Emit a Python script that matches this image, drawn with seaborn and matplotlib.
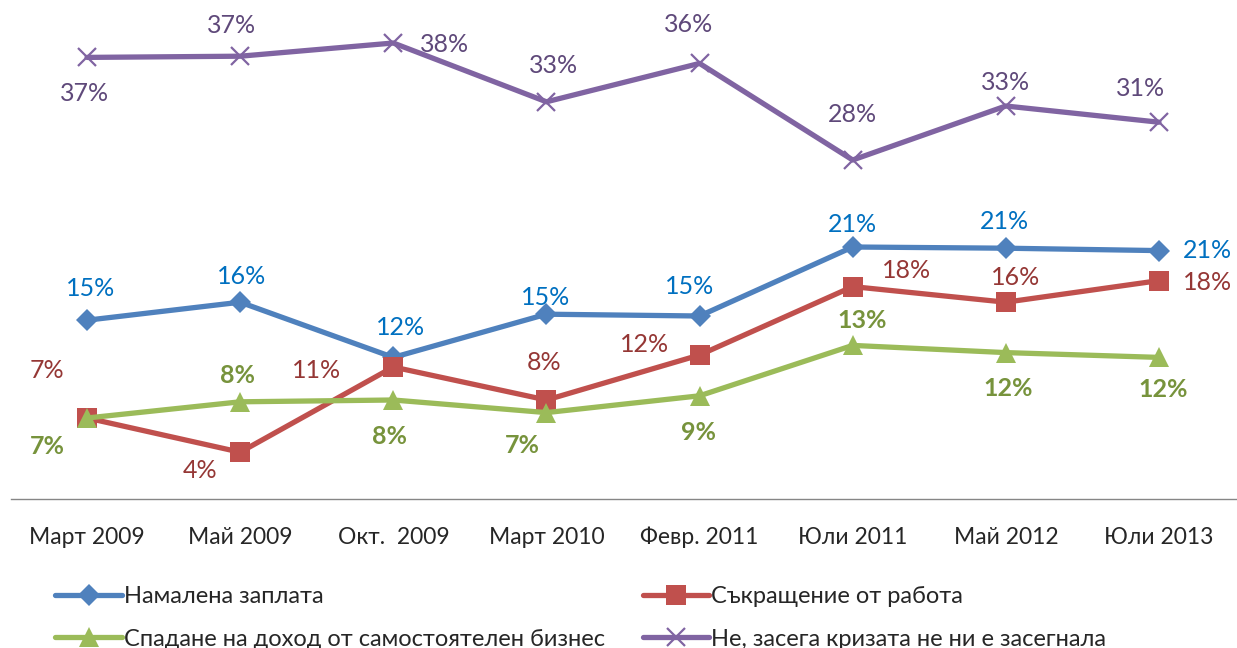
import matplotlib
matplotlib.use("Agg")
import matplotlib.pyplot as plt
import seaborn as sns
import pandas as pd

periods = ["Март 2009", "Май 2009", "Окт.  2009", "Март 2010",
           "Февр. 2011", "Юли 2011", "Май 2012", "Юли 2013"]

series_names = ["Намалена заплата", "Съкращение от работа",
                "Спадане на доход от самостоятелен бизнес",
                "Не, засега кризата не ни е засегнала"]

salary_cut = [14.9, 16.4, 11.8, 15.4, 15.25, 21.0, 20.9, 20.7]
job_loss = [6.75, 3.9, 11.0, 8.25, 12.0, 17.7, 16.4, 18.2]
business_drop = [6.75, 8.1, 8.25, 7.2, 8.6, 12.8, 12.2, 11.8]
not_affected = [36.8, 36.9, 38.0, 33.1, 36.3, 28.25, 32.75, 31.4]

sns.set_style("white")
plt.rcParams["font.family"] = ["Lato", "Open Sans", "DejaVu Sans"]

line_colors = ["#4F81BD", "#C0504D", "#9BBB59", "#8064A2"]
label_colors = ["#0070C0", "#953735", "#77933C", "#5F497A"]
markers = ["D", "s", "^", "x"]
msizes = [11, 14, 15, 13]
bold = [False, False, True, False]

# label offsets in pixels (dx, dy), screen coordinates, y down
offsets = [
    [(4, -32), (1, -26), (7, -30), (-1, -17), (-10, -29), (0, -22), (-1, -27), (49, 0)],
    [(-40, -47), (-40, 18), (-77, 3), (-2, -38), (-55, -11), (54, -16), (10, -25), (49, 2)],
    [(-40, 29), (-3, -26), (-4, 36), (-24, 33), (-1, 37), (9, -25), (2, 36), (4, 32)],
    [(-3, 36), (-9, -31), (51, 2), (7, -36), (-11, -39), (0, -46), (0, -24), (-18, -34)],
]

values = [salary_cut, job_loss, business_drop, not_affected]
xpos = list(range(len(periods)))

fig = plt.figure(figsize=(12.37, 6.48), dpi=100)
ax = fig.add_axes([10.5 / 1237, 149 / 648, 1225 / 1237, 480 / 648])

for i, vals in enumerate(values):
    df = pd.DataFrame({"x": xpos, "y": vals})
    sns.lineplot(data=df, x="x", y="y", ax=ax, color=line_colors[i],
                 linewidth=3.8, marker=markers[i], markersize=msizes[i],
                 markeredgewidth=1.6 if markers[i] == "x" else 0,
                 markeredgecolor=line_colors[i], label=series_names[i])
    for j, v in enumerate(vals):
        dx, dy = offsets[i][j]
        ax.annotate(f"{round(v)}%", (j, v), xytext=(dx * 0.72, -dy * 0.72),
                    textcoords="offset points", ha="center", va="center",
                    fontsize=18, color=label_colors[i],
                    fontweight="bold" if bold[i] else "normal")

ax.set_xlim(-0.5, len(periods) - 0.5)
ax.set_ylim(0, 40)
ax.set_xticks(xpos)
ax.set_xticklabels(periods, fontsize=16.5)
ax.set_xticks([p - 0.5 for p in range(len(periods) + 1)], minor=True)
ax.tick_params(axis="x", which="major", length=0, pad=20)
ax.tick_params(axis="x", which="minor", length=7, width=1, color="#868686", direction="out")
ax.set_yticks([])
ax.set_xlabel("")
ax.set_ylabel("")
for s in ["top", "left", "right"]:
    ax.spines[s].set_visible(False)
ax.spines["bottom"].set_color("#868686")
ax.spines["bottom"].set_linewidth(1)

handles, labels = ax.get_legend_handles_labels()
ax.get_legend().remove()
order = [0, 2, 1, 3]
fig.legend([handles[k] for k in order], [labels[k] for k in order], ncol=2,
           loc="lower left", bbox_to_anchor=(46 / 1237, -0.017), frameon=False,
           fontsize=17, handlelength=2.8, handletextpad=0.1, columnspacing=1.6,
           labelspacing=0.9, borderaxespad=0)

fig.savefig("out.png", dpi=100)
